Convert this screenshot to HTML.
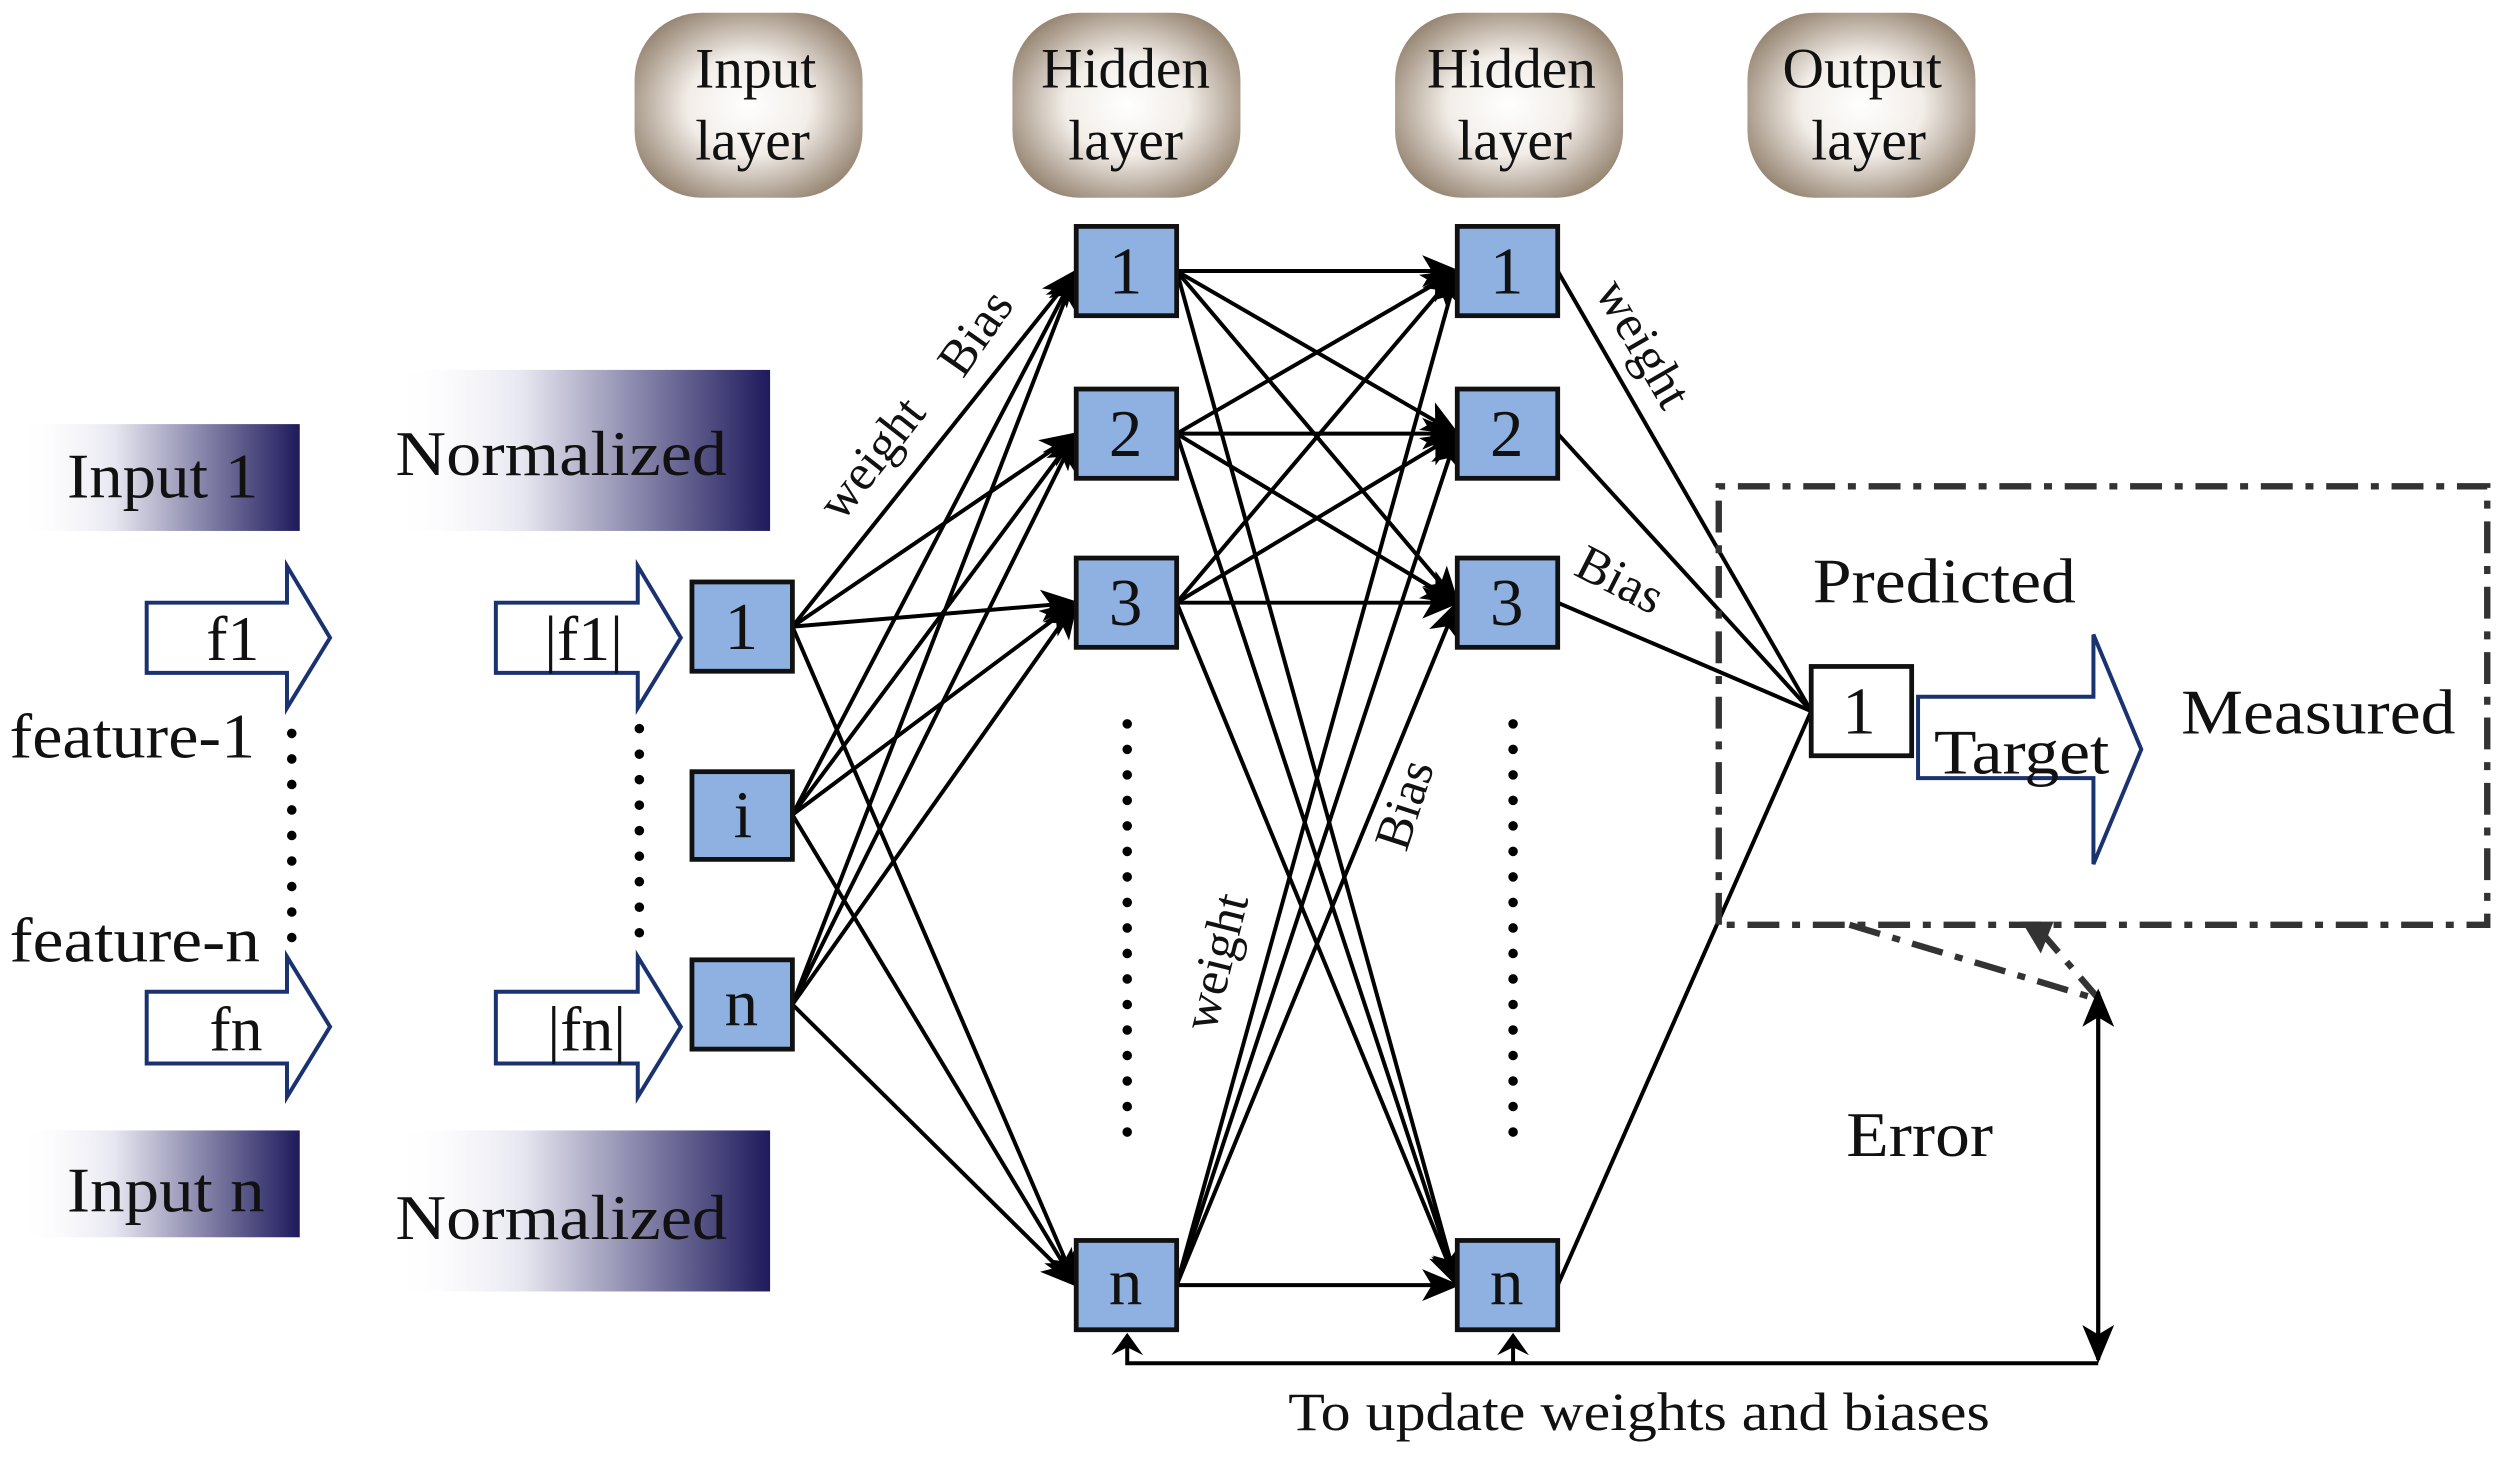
<!DOCTYPE html>
<html><head><meta charset="utf-8"><style>
html,body{margin:0;padding:0;background:#fff;}
svg{display:block;}
text{font-family:"Liberation Serif",serif;fill:#111;}
</style></head><body>
<svg width="2500" height="1460" viewBox="0 0 1568 915.7" preserveAspectRatio="none" xmlns="http://www.w3.org/2000/svg">
<defs>
<radialGradient id="pill" cx="50%" cy="50%" r="60%">
<stop offset="0" stop-color="#ffffff"/><stop offset="0.45" stop-color="#f2ede8"/><stop offset="1" stop-color="#8e7c68"/>
</radialGradient>
<linearGradient id="nav" x1="0" x2="1" y1="0" y2="0">
<stop offset="0" stop-color="#ffffff" stop-opacity="0"/><stop offset="0.35" stop-color="#e6e6f0"/><stop offset="1" stop-color="#1e1a5c"/>
</linearGradient>
<marker id="ah2" markerWidth="24" markerHeight="20" refX="22" refY="10" orient="auto" markerUnits="userSpaceOnUse">
<path d="M0,0 L24,10 L0,20 L6,10 z" fill="#000"/>
</marker>
</defs>

<!-- layer pills -->
<g font-size="36" text-anchor="middle">
<rect x="398" y="8" width="143" height="116" rx="42" fill="url(#pill)"/>
<text x="474" y="55">Input</text><text x="472" y="100">layer</text>
<rect x="635" y="8" width="143" height="116" rx="42" fill="url(#pill)"/>
<text x="706" y="55">Hidden</text><text x="706" y="100">layer</text>
<rect x="875" y="8" width="143" height="116" rx="42" fill="url(#pill)"/>
<text x="948" y="55">Hidden</text><text x="950" y="100">layer</text>
<rect x="1096" y="8" width="143" height="116" rx="42" fill="url(#pill)"/>
<text x="1168" y="55">Output</text><text x="1172" y="100">layer</text>
</g>

<!-- gradient label boxes -->
<rect x="10" y="266" width="178" height="67" fill="url(#nav)"/>
<rect x="245" y="232" width="238" height="101" fill="url(#nav)"/>
<rect x="10" y="709" width="178" height="67" fill="url(#nav)"/>
<rect x="245" y="709" width="238" height="101" fill="url(#nav)"/>
<g font-size="40" lengthAdjust="spacingAndGlyphs">
<text x="42" y="312" textLength="120" lengthAdjust="spacingAndGlyphs">Input 1</text>
<text x="248" y="298" textLength="208" lengthAdjust="spacingAndGlyphs">Normalized</text>
<text x="42" y="760" textLength="124" lengthAdjust="spacingAndGlyphs">Input n</text>
<text x="248" y="777" textLength="208" lengthAdjust="spacingAndGlyphs">Normalized</text>
<text x="6" y="475" textLength="154" lengthAdjust="spacingAndGlyphs">feature-1</text>
<text x="6" y="603" textLength="157" lengthAdjust="spacingAndGlyphs">feature-n</text>
</g>

<!-- block arrows -->
<g fill="#fff" stroke="#1a3370" stroke-width="2.5">
<path d="M92,378 H180 V355 L207,400 L180,444 V422 H92 Z"/>
<path d="M92,622 H180 V600 L207,644 L180,688 V667 H92 Z"/>
<path d="M311,378 H400 V355 L427,400 L400,444 V422 H311 Z"/>
<path d="M311,622 H400 V600 L427,644 L400,688 V667 H311 Z"/>
<path d="M1203,437 H1313 V398 L1343,470 L1313,542 V488 H1203 Z"/>
</g>
<g font-size="40" text-anchor="middle">
<text x="146" y="414">f1</text><text x="148" y="659">fn</text>
<text x="366" y="414">|f1|</text><text x="368" y="659">|fn|</text>
</g>
<text x="1213" y="485" font-size="40" textLength="110" lengthAdjust="spacingAndGlyphs">Target</text>

<!-- dotted columns -->
<g stroke="#000" stroke-width="6" stroke-linecap="round" stroke-dasharray="0 16">
<line x1="183" y1="460" x2="183" y2="590"/>
<line x1="401" y1="457" x2="401" y2="590"/>
<line x1="707" y1="454" x2="707" y2="725"/>
<line x1="949" y1="454" x2="949" y2="725"/>
</g>

<!-- input -> hidden1 -->
<g stroke="#000" stroke-width="2.5" marker-end="url(#ah2)">
<line x1="497" y1="393" x2="675" y2="170"/><line x1="497" y1="393" x2="675" y2="272"/><line x1="497" y1="393" x2="675" y2="378"/><line x1="497" y1="393" x2="675" y2="806"/>
<line x1="497" y1="511" x2="675" y2="170"/><line x1="497" y1="511" x2="675" y2="272"/><line x1="497" y1="511" x2="675" y2="378"/><line x1="497" y1="511" x2="675" y2="806"/>
<line x1="497" y1="630" x2="675" y2="170"/><line x1="497" y1="630" x2="675" y2="272"/><line x1="497" y1="630" x2="675" y2="378"/><line x1="497" y1="630" x2="675" y2="806"/>
</g>
<!-- hidden1 -> hidden2 -->
<g stroke="#000" stroke-width="2.5" marker-end="url(#ah2)">
<line x1="738" y1="170" x2="914" y2="170"/><line x1="738" y1="170" x2="914" y2="272"/><line x1="738" y1="170" x2="914" y2="378"/><line x1="738" y1="170" x2="914" y2="806"/>
<line x1="738" y1="272" x2="914" y2="170"/><line x1="738" y1="272" x2="914" y2="272"/><line x1="738" y1="272" x2="914" y2="378"/><line x1="738" y1="272" x2="914" y2="806"/>
<line x1="738" y1="378" x2="914" y2="170"/><line x1="738" y1="378" x2="914" y2="272"/><line x1="738" y1="378" x2="914" y2="378"/><line x1="738" y1="378" x2="914" y2="806"/>
<line x1="738" y1="806" x2="914" y2="170"/><line x1="738" y1="806" x2="914" y2="272"/><line x1="738" y1="806" x2="914" y2="378"/><line x1="738" y1="806" x2="914" y2="806"/>
</g>
<!-- hidden2 -> output -->
<g stroke="#000" stroke-width="2.5">
<line x1="977" y1="170" x2="1136" y2="446"/><line x1="977" y1="272" x2="1136" y2="446"/><line x1="977" y1="378" x2="1136" y2="446"/><line x1="977" y1="806" x2="1136" y2="446"/>
</g>

<!-- nodes -->
<g fill="#8eb1e2" stroke="#111" stroke-width="3">
<rect x="434" y="365" width="63" height="56"/><rect x="434" y="484" width="63" height="55"/><rect x="434" y="602" width="63" height="56"/>
<rect x="675" y="142" width="63" height="56"/><rect x="675" y="244" width="63" height="56"/><rect x="675" y="350" width="63" height="56"/><rect x="675" y="778" width="63" height="56"/>
<rect x="914" y="142" width="63" height="56"/><rect x="914" y="244" width="63" height="56"/><rect x="914" y="350" width="63" height="56"/><rect x="914" y="778" width="63" height="56"/>
</g>
<rect x="1136" y="418" width="63" height="56" fill="#fff" stroke="#111" stroke-width="3"/>
<g font-size="42" text-anchor="middle">
<text x="465" y="407">1</text><text x="466" y="525">i</text><text x="465" y="643">n</text>
<text x="706" y="184">1</text><text x="706" y="286">2</text><text x="706" y="392">3</text><text x="706" y="818">n</text>
<text x="945" y="184">1</text><text x="945" y="286">2</text><text x="945" y="392">3</text><text x="945" y="818">n</text>
<text x="1166" y="460">1</text>
</g>

<!-- connection labels -->
<g font-size="32">
<text transform="translate(528,328) rotate(-52)">weight</text>
<text transform="translate(604,238) rotate(-55)">Bias</text>
<text transform="translate(762,648) rotate(-76)">weight</text>
<text transform="translate(882,535) rotate(-72)">Bias</text>
<text transform="translate(1000,183) rotate(60)">weight</text>
<text transform="translate(986,360) rotate(27)">Bias</text>
</g>

<!-- dashed box -->
<g stroke="#333" stroke-width="4" fill="none" stroke-dasharray="20 8 5 8">
<path d="M1078,580 V305 H1560 V580 H1078"/>
<path d="M1160,580 L1310,625"/>
<path d="M1278,582 L1315,625"/>
</g>
<path d="M1268,578 L1288,578 L1280,598 z" fill="#333"/>
<text x="1137" y="378" font-size="40" textLength="165" lengthAdjust="spacingAndGlyphs">Predicted</text>
<text x="1368" y="460" font-size="40" textLength="172" lengthAdjust="spacingAndGlyphs">Measured</text>
<text x="1158" y="725" font-size="40" textLength="92" lengthAdjust="spacingAndGlyphs">Error</text>

<!-- feedback -->
<g stroke="#000" stroke-width="2.5" fill="none">
<line x1="1316" y1="852" x2="1316" y2="622" marker-end="url(#ah2)"/>
<line x1="1316" y1="630" x2="1316" y2="853" marker-end="url(#ah2)"/>
<polyline points="1316,855 707,855 707,838"/>
<line x1="949" y1="855" x2="949" y2="838"/>
</g>
<path d="M697,850 L707,836 L717,850 L707,845 z" fill="#000"/>
<path d="M939,850 L949,836 L959,850 L949,845 z" fill="#000"/>
<text x="808" y="897" font-size="34" textLength="440" lengthAdjust="spacingAndGlyphs">To update weights and biases</text>
</svg>
</body></html>
